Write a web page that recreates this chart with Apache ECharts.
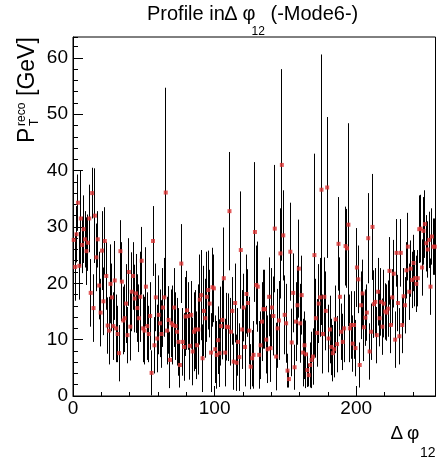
<!DOCTYPE html>
<html><head><meta charset="utf-8">
<script src="https://cdn.jsdelivr.net/npm/echarts@6/dist/echarts.min.js"></script>
<style>html,body{margin:0;padding:0;background:#fff}#c{width:437px;height:461px}</style>
</head><body><div id="c"></div>
<script>
// Profile mean per bin (bin width 1, bins 0..255)
const values = [
27.7,22.9,28.7,34.3,23.1,31.5,26.8,29.6,27.8,25.7,27.2,31.5,18.3,36.0,15.6,32.0,
24.6,27.8,19.6,14.8,25.8,16.8,27.5,21.3,12.5,11.6,19.9,17.5,12.4,20.5,12.0,11.0,
7.6,25.7,20.3,13.4,13.8,16.4,10.8,22.0,12.3,18.5,21.3,17.3,18.2,15.6,13.8,17.6,
24.0,12.0,11.6,19.4,12.4,11.0,14.2,4.1,27.5,9.0,17.5,10.2,14.4,12.9,11.0,15.7,
17.5,36.1,11.6,13.5,6.4,12.9,12.6,15.7,12.4,11.4,9.6,5.5,23.5,9.6,8.7,14.1,
15.2,14.2,8.9,14.4,7.9,11.4,11.8,9.0,11.8,17.1,17.9,6.7,15.1,13.8,17.6,18.8,
16.4,7.7,19.3,19.1,8.3,7.3,9.9,7.6,12.4,13.5,20.9,7.7,12.3,12.2,32.8,11.4,
15.1,6.1,16.5,5.9,9.6,6.9,25.9,11.8,15.7,8.7,18.1,16.5,11.6,5.2,6.7,7.3,
29.1,19.7,19.4,7.3,9.0,13.2,15.4,15.4,10.0,8.3,17.6,8.5,15.7,14.2,29.7,7.0,
12.0,13.4,25.3,41.0,28.5,14.4,12.9,4.5,3.0,25.6,9.5,18.3,5.1,13.2,16.1,22.6,
12.9,17.9,7.7,9.0,7.4,4.6,3.7,5.5,6.4,7.0,25.0,13.8,11.2,16.4,17.5,36.6,
11.0,17.6,15.1,37.0,10.2,11.8,8.7,7.6,8.3,13.6,9.2,27.0,17.6,11.4,9.6,12.0,
26.6,26.2,30.4,12.0,12.6,9.3,12.6,8.5,22.8,20.7,5.5,16.1,18.2,12.2,13.9,14.8,
28.0,7.9,11.4,30.0,16.3,16.7,10.8,18.5,13.8,16.7,12.3,16.4,15.0,14.8,15.5,22.2,
12.6,17.5,21.7,10.0,25.4,16.5,10.6,25.4,12.6,17.7,16.1,22.3,26.5,18.5,22.6,20.6,
23.6,20.9,19.9,20.9,29.6,29.7,22.8,29.3,30.5,27.1,26.0,27.7,19.4,28.3,26.5,26.5
];
// Error on the mean per bin
const errors = [
5,6,5,5,6,8.5,5,6,5,6,5,6,6,4.5,6,8.4,
6,5,6,6,7,6,6,6,5,6,7,6,6,7,6,5,
5,5.5,7,6,6,7,5,6,6,7,6,6,7,6,6,8,
6,6,6,7,6,5,6,4,6.2,5,6,6,7,6,6,7,
7,18.6,6,6,5,6,7,7,6,6,6,4,7,6,6,7,
7,6,6,6,6,7,7,6,8,8,8,6,8,7,8,7,
6,7,7,6,6,6,6,6,7,7,9,6,6,6,10.5,6,
6,5,7,5,6,6,10.4,7,6,7,7,6,6,4,5,6,
12.4,7,8,6,6,7,7,7,6,6,7,6,7,7,11.3,6,
7,7,8,17,8,7,7,3,1.5,8.7,6,7,4,7,7,8.7,
7,7,6,6,6,3,2,4,5,5,18,7,6,7,7,24,
7,7,7,12.5,6,6,5,5,5,6,5,8.3,7,5,5,6,
7,7,18,6,6,5,6,5,7,6,4,6,6,6,5,5,
8,5,5,9.4,6,6,5,6,5,6,5,6,5,5,5,6,
5,5,6,5,6,5,5,6,5,5,5,5,6,5,5,5,
5,5,5,5,6,6,5,6,6,5,5,5,5,5,5,5
];
const binLow = 0, binWidth = 1;
const xRange = [0, 256];
const yRange = [0, 63.7];
const xMajorStep = 100, xMinorStep = 20;
const yMajorStep = 10, yMinorStep = 2;

const FONT = "'Liberation Sans', Arial, Helvetica, sans-serif";
const pts = values.map((v, i) => [binLow + (i + 0.5) * binWidth, v, errors[i]]);

const cv = document.createElement('canvas').getContext('2d');
function tw(t, fs) { cv.font = fs + "px 'Liberation Sans'"; return cv.measureText(t).width; }
function txt(t, x, base, fs, extra) {
  return Object.assign({ type: 'text', x: x, y: base - 0.31 * fs,
    style: { text: t, fontSize: fs, fontFamily: FONT, fill: '#000', textAlign: 'left', textVerticalAlign: 'middle' } }, extra || {});
}

// title pieces (chained)
const tX = 147, tBase = 20.5;
const t1 = 'Profile in\u2206 \u03c6', t2 = '12', t3 = ' (-Mode6-)';
const x2 = tX + tw(t1, 20) - 4;
const x3 = x2 + tw(t2, 12);
const titleEls = [
  txt(t1, tX, tBase, 20),
  txt(t2, x2, 35.5, 12),
  txt(t3, x3, tBase, 20)
];
// x-axis title
const xTitleEls = [
  txt('\u2206', 391, 440, 19),
  txt('\u03c6', 407, 440, 19),
  txt('12', 420, 457, 14)
];
// y-axis title (rotated group)
const yTitle = {
  type: 'group', x: 35, y: 143, rotation: Math.PI / 2,
  children: [
    txt('P', 0, 0, 23),
    txt('reco', 17, -10, 12),
    txt('T', 17, 3, 12),
    txt('[GeV]', 47, 0, 23)
  ]
};

const chart = echarts.init(document.getElementById('c'), null, { renderer: 'canvas' });
const axisCommon = { type: 'value', splitLine: { show: false } };
chart.setOption({
  animation: false,
  backgroundColor: '#fff',
  grid: { left: 73, top: 37, width: 362.5, height: 359, show: true, borderColor: '#000', borderWidth: 1, backgroundColor: 'transparent' },
  xAxis: [
    Object.assign({}, axisCommon, { min: xRange[0], max: xRange[1], interval: xMajorStep, position: 'bottom',
      axisLine: { lineStyle: { color: '#000', width: 1 } },
      axisTick: { inside: true, length: 10, lineStyle: { color: '#000' } },
      axisLabel: { margin: 3, fontSize: 19, color: '#000', fontFamily: FONT, showMaxLabel: false } }),
    Object.assign({}, axisCommon, { min: xRange[0], max: xRange[1], interval: xMinorStep, position: 'bottom', offset: 0,
      axisLine: { show: false },
      axisTick: { inside: true, length: 4, lineStyle: { color: '#000' } },
      axisLabel: { show: false } })
  ],
  yAxis: [
    Object.assign({}, axisCommon, { min: yRange[0], max: yRange[1], interval: yMajorStep, position: 'left',
      axisLine: { show: true, lineStyle: { color: '#000', width: 1 } },
      axisTick: { show: true, inside: true, length: 10, lineStyle: { color: '#000' } },
      axisLabel: { margin: 5, fontSize: 19, color: '#000', fontFamily: FONT, showMaxLabel: false } }),
    Object.assign({}, axisCommon, { min: yRange[0], max: yRange[1], interval: yMinorStep, position: 'left', offset: 0,
      axisLine: { show: false },
      axisTick: { show: true, inside: true, length: 5, lineStyle: { color: '#000' } },
      axisLabel: { show: false } })
  ],
  graphic: { elements: titleEls.concat(xTitleEls, [yTitle]) },
  series: [
    {
      type: 'custom', xAxisIndex: 0, yAxisIndex: 0, clip: true,
      encode: { x: 0, y: 1 },
      data: pts,
      renderItem: function (params, api) {
        const x = api.value(0), v = api.value(1), e = api.value(2);
        const a = api.coord([x, v + e]), b = api.coord([x, v - e]);
        const px = Math.round(a[0] - 0.5) + 0.5;
        return { type: 'line', shape: { x1: px, y1: a[1], x2: px, y2: b[1] },
          style: { stroke: '#000', lineWidth: 1 } };
      }
    },
    {
      type: 'scatter', xAxisIndex: 0, yAxisIndex: 0, symbol: 'rect', symbolSize: 4,
      itemStyle: { color: '#dc3232' }, z: 5,
      data: pts.map(p => [p[0], p[1]])
    }
  ]
});
</script></body></html>
